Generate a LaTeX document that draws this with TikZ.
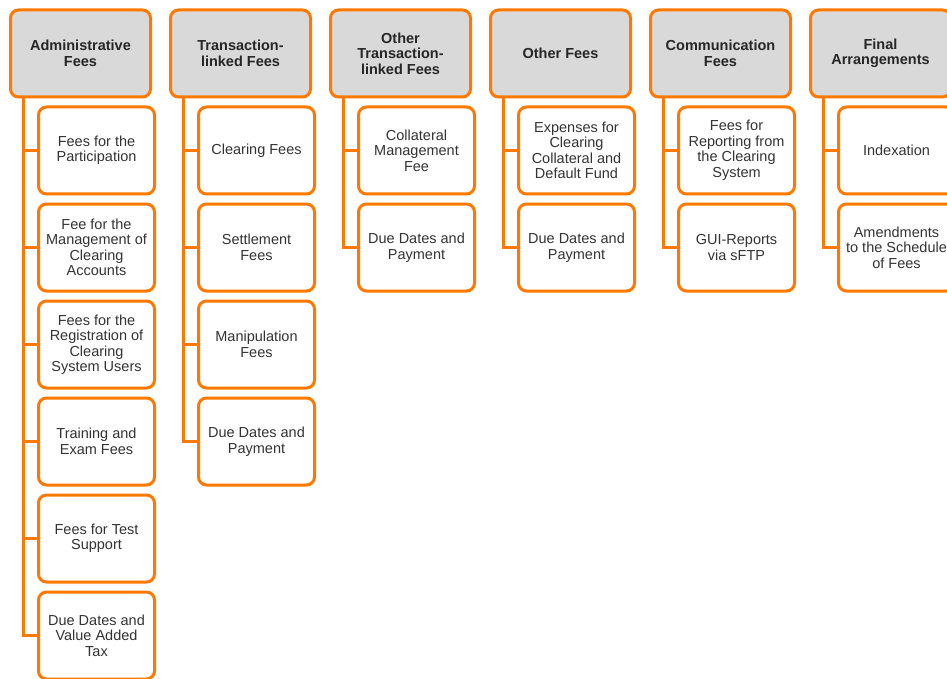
\documentclass[tikz,border=0pt]{standalone}
\usepackage{fontspec}
\setmainfont{Liberation Sans}
\usetikzlibrary{calc}
\definecolor{feeorange}{RGB}{255,121,0}
\definecolor{hdrgray}{RGB}{217,217,217}
\definecolor{txtgray}{RGB}{51,51,51}
\tikzset{
  boxbase/.style={draw=feeorange, line width=3pt, rounded corners=8pt,
    align=center, inner sep=0pt, font=\fontsize{14.5}{15.5}\selectfont},
  hdr/.style={boxbase, fill=hdrgray, minimum width=140pt, minimum height=87pt,
    text=black!85, font=\fontsize{14.5}{15.5}\selectfont\bfseries},
  item/.style={boxbase, fill=white, minimum width=116pt, minimum height=87pt,
    text=txtgray},
  link/.style={draw=feeorange, line width=3pt}
}
\begin{document}
\begin{tikzpicture}[x=1pt, y=-1pt]
\useasboundingbox (0,0) rectangle (947,679);

% column headers
\node[hdr] (h1) at (80.5,53.5)  {Administrative\\Fees};
\node[hdr] (h2) at (240.5,53.5) {Transaction-\\linked Fees};
\node[hdr] (h3) at (400.5,53.5) {Other\\Transaction-\\linked Fees};
\node[hdr] (h4) at (560.5,53.5) {Other Fees};
\node[hdr] (h5) at (720.5,53.5) {Communication\\Fees};
\node[hdr] (h6) at (880.5,53.5) {Final\\Arrangements};

% column 1
\node[item] (c11) at (96.5,150.5) {Fees for the\\Participation};
\node[item] (c12) at (96.5,247.5) {Fee for the\\Management of\\Clearing\\Accounts};
\node[item] (c13) at (96.5,344.5) {Fees for the\\Registration of\\Clearing\\System Users};
\node[item] (c14) at (96.5,441.5) {Training and\\Exam Fees};
\node[item] (c15) at (96.5,538.5) {Fees for Test\\Support};
\node[item] (c16) at (96.5,635.5) {Due Dates and\\Value Added\\Tax};

% column 2
\node[item] (c21) at (256.5,150.5) {Clearing Fees};
\node[item] (c22) at (256.5,247.5) {Settlement\\Fees};
\node[item] (c23) at (256.5,344.5) {Manipulation\\Fees};
\node[item] (c24) at (256.5,441.5) {Due Dates and\\Payment};

% column 3
\node[item] (c31) at (416.5,150.5) {Collateral\\Management\\Fee};
\node[item] (c32) at (416.5,247.5) {Due Dates and\\Payment};

% column 4
\node[item] (c41) at (576.5,150.5) {Expenses for\\Clearing\\Collateral and\\Default Fund};
\node[item] (c42) at (576.5,247.5) {Due Dates and\\Payment};

% column 5
\node[item] (c51) at (736.5,150.5) {Fees for\\Reporting from\\the Clearing\\System};
\node[item] (c52) at (736.5,247.5) {GUI-Reports\\via sFTP};

% column 6
\node[item] (c61) at (896.5,150.5) {Indexation};
\node[item] (c62) at (896.5,247.5) {Amendments\\to the Schedule\\of Fees};

% tree connectors: a spine below each header, a branch to each item
\foreach \h/\items in {h1/{c11,c12,c13,c14,c15,c16}, h2/{c21,c22,c23,c24},
    h3/{c31,c32}, h4/{c41,c42}, h5/{c51,c52}, h6/{c61,c62}} {
  \coordinate (\h-spine) at ($(\h.south west)+(14,-1.5)$);
  \foreach \c in \items {
    \draw[link] (\h-spine) |- (\c.west);
  }
}
\end{tikzpicture}
\end{document}
